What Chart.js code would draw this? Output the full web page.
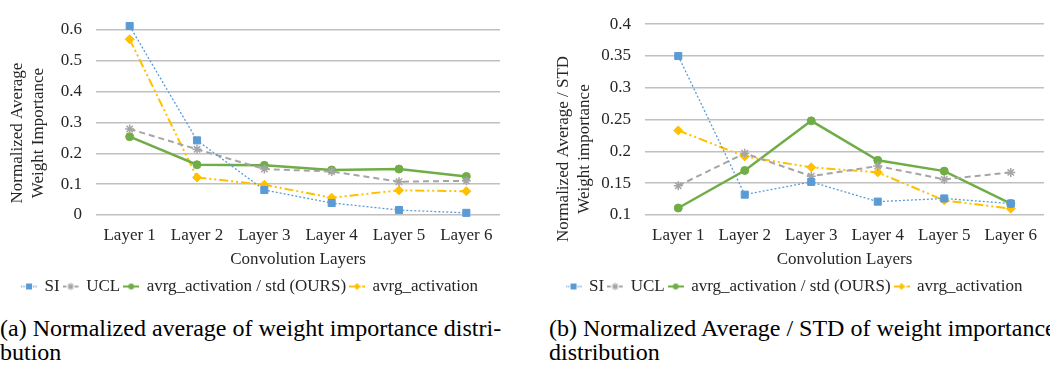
<!DOCTYPE html>
<html lang="en">
<head>
  <meta charset="UTF-8">
  <title>Weight importance distribution</title>
  <script src="https://cdn.jsdelivr.net/npm/chart.js"></script>
  <style>
    body {
      margin: 0;
      width: 1050px;
      height: 371px;
      overflow: hidden;
      background: #fff;
      font-family: 'Liberation Serif', 'Times New Roman', serif;
      position: relative;
    }
    canvas { position: absolute; top: 0; }
    #avgChart { left: 0; }
    #stdChart { left: 540px; }
    .caption {
      position: absolute;
      top: 316px;
      font-size: 24px;
      line-height: 24px;
      color: #000;
      white-space: nowrap;
    }
  </style>
</head>
<body>
  <canvas id="avgChart" width="510" height="305"></canvas>
  <canvas id="stdChart" width="510" height="305"></canvas>
  <div class="caption" style="left:0">(a) Normalized average of weight importance distri-<br>bution</div>
  <div class="caption" style="left:549px">(b) Normalized Average / STD of weight importance<br>distribution</div>

  <script>
    const layers = ["Layer 1", "Layer 2", "Layer 3", "Layer 4", "Layer 5", "Layer 6"];
    const seriesNames = ["SI", "UCL", "avrg_activation / std (OURS)", "avrg_activation"];

    // (a) normalized average
    const siAvg   = [0.613, 0.242, 0.081, 0.039, 0.016, 0.007];
    const uclAvg  = [0.279, 0.213, 0.149, 0.141, 0.108, 0.111];
    const oursAvg = [0.254, 0.163, 0.161, 0.146, 0.149, 0.125];
    const actAvg  = [0.570, 0.122, 0.098, 0.056, 0.080, 0.077];

    // (b) normalized average / std
    const siStd   = [0.350, 0.132, 0.152, 0.121, 0.126, 0.118];
    const uclStd  = [0.146, 0.197, 0.161, 0.177, 0.156, 0.167];
    const oursStd = [0.111, 0.170, 0.248, 0.186, 0.169, 0.118];
    const actStd  = [0.233, 0.192, 0.175, 0.167, 0.123, 0.110];

    const FONT = "'Liberation Serif', 'Times New Roman', serif";
    const TEXT = "#262626";
    const GRID = "#c0c0c0";

    const styles = [
      { color: "#5b9bd5", width: 1.3, dash: [2, 2], point: "rect", radius: 5 },
      { color: "#a5a5a5", width: 2, dash: [6, 4], point: "star", radius: 4.5 },
      { color: "#70ad47", width: 2.5, dash: [], point: "circle", radius: 4 },
      { color: "#ffc000", width: 2, dash: [9, 3, 2, 3, 2, 3], point: "rectRot", radius: 4.5 }
    ];

    // little "line + marker" icons for the legend
    function makeIcon(s) {
      const c = document.createElement("canvas");
      c.width = 16; c.height = 10;
      const ctx = c.getContext("2d");
      ctx.strokeStyle = s.color;
      ctx.lineWidth = Math.min(s.width, 2);
      ctx.setLineDash(s.dash.length ? s.dash.map(d => Math.max(1, d * 0.6)) : []);
      ctx.beginPath(); ctx.moveTo(0, 5); ctx.lineTo(16, 5); ctx.stroke();
      ctx.setLineDash([]);
      ctx.fillStyle = s.color;
      ctx.beginPath();
      if (s.point === "circle") { ctx.arc(8, 5, 3, 0, Math.PI * 2); ctx.fill(); }
      else if (s.point === "rect") { ctx.fillRect(5, 2, 6, 6); }
      else if (s.point === "rectRot") { ctx.moveTo(8, 1.5); ctx.lineTo(11.5, 5); ctx.lineTo(8, 8.5); ctx.lineTo(4.5, 5); ctx.closePath(); ctx.fill(); }
      else {
        ctx.lineWidth = 1.2;
        Chart.helpers.drawPoint(ctx, { pointStyle: "star", radius: 3.5, borderWidth: 1.2 }, 8, 5);
      }
      return c;
    }

    // two-line rotated y title, placed like the original
    const yTitlePlugin = {
      id: "yTitle",
      afterDraw(chart, args, opts) {
        const ctx = chart.ctx;
        ctx.save();
        ctx.translate(opts.x, opts.cy);
        ctx.rotate(-Math.PI / 2);
        ctx.fillStyle = TEXT;
        ctx.font = "17px " + FONT;
        ctx.textAlign = "center";
        ctx.textBaseline = "middle";
        opts.lines.forEach((t, i) => ctx.fillText(t, 0, i * opts.gap));
        ctx.restore();
      }
    };

    function makeDatasets(values) {
      return values.map((data, i) => {
        const s = styles[i];
        return {
          label: seriesNames[i],
          data,
          clip: false,
          borderColor: s.color,
          backgroundColor: s.color,
          borderWidth: s.width,
          borderDash: s.dash,
          pointStyle: s.point,
          pointRadius: s.radius,
          pointBackgroundColor: s.color,
          pointBorderColor: s.color,
          pointBorderWidth: s.point === "star" ? 1.5 : 1,
          tension: 0,
          fill: false
        };
      });
    }

    function makeChart(id, values, yOpts) {
      let icons = null;
      return new Chart(document.getElementById(id), {
        type: "line",
        data: { labels: layers, datasets: makeDatasets(values) },
        plugins: [yTitlePlugin],
        options: {
          responsive: false,
          animation: false,
          layout: { padding: { left: 0, right: yOpts.padRight, top: yOpts.padTop, bottom: 0 } },
          plugins: {
            tooltip: { enabled: false },
            yTitle: { lines: yOpts.title, x: yOpts.titleX, cy: yOpts.titleCy, gap: 21 },
            legend: {
              position: "bottom",
              labels: {
                usePointStyle: true,
                pointStyleWidth: 14,
                boxHeight: 10,
                padding: 4,
                color: TEXT,
                font: { family: FONT, size: 17 },
                generateLabels(chart) {
                  if (!icons) icons = styles.map(makeIcon);
                  const items = Chart.defaults.plugins.legend.labels.generateLabels(chart);
                  items.forEach(it => { it.pointStyle = icons[it.datasetIndex]; });
                  return items;
                }
              }
            }
          },
          scales: {
            x: {
              offset: true,
              grid: { display: false },
              border: { display: false },
              ticks: { color: TEXT, font: { family: FONT, size: 17 }, padding: 2, maxRotation: 0 },
              title: {
                display: true,
                text: "Convolution Layers",
                color: TEXT,
                font: { family: FONT, size: 17 },
                padding: { top: 0, bottom: 4 }
              },
              afterFit(scale) { scale.height = 59; }
            },
            y: {
              min: yOpts.min,
              max: yOpts.max,
              border: { display: false },
              grid: { color: GRID, lineWidth: 1.5, drawTicks: false },
              ticks: {
                stepSize: yOpts.step,
                color: TEXT,
                font: { family: FONT, size: 17 },
                padding: 14,
                callback: v => String(+v.toFixed(2))
              },
              afterFit(scale) { scale.width = yOpts.axisWidth; }
            }
          }
        }
      });
    }

    makeChart("avgChart", [siAvg, uclAvg, oursAvg, actAvg], {
      min: 0, max: 0.6, step: 0.1,
      title: ["Normalized Average", "Weight Importance"],
      titleX: 18, titleCy: 133,
      axisWidth: 96, padRight: 10, padTop: 30
    });

    makeChart("stdChart", [siStd, uclStd, oursStd, actStd], {
      min: 0.1, max: 0.4, step: 0.05,
      title: ["Normalized Average / STD", "Weight importance"],
      titleX: 24, titleCy: 149,
      axisWidth: 105, padRight: 1, padTop: 15
    });
  </script>
</body>
</html>
